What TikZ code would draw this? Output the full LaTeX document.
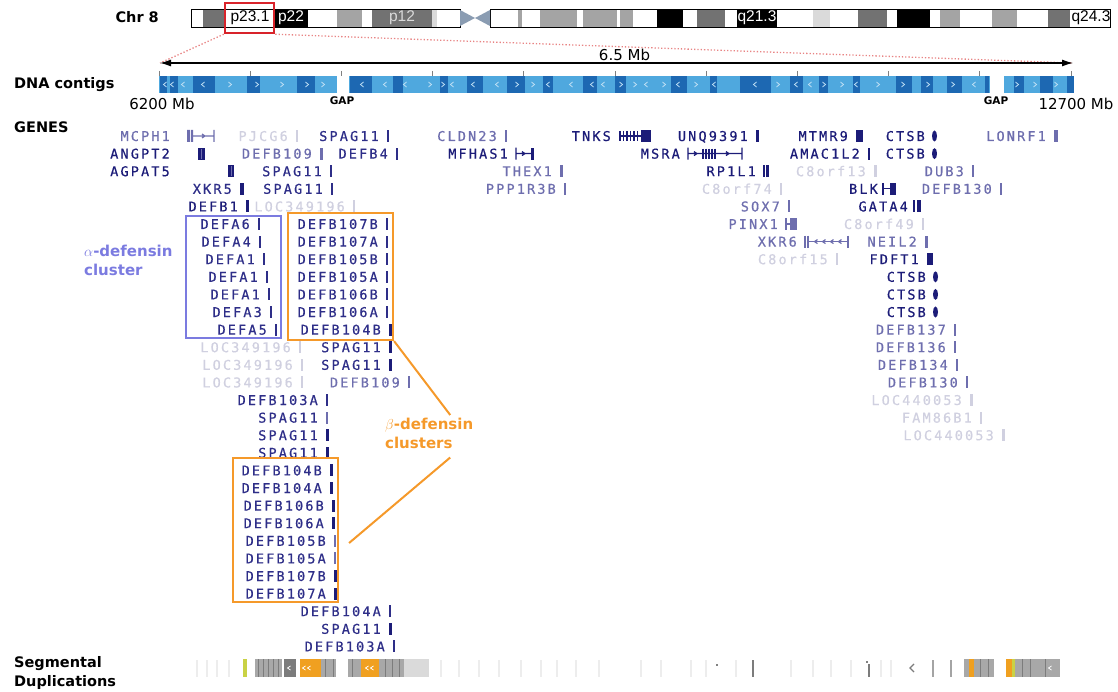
\documentclass[tikz,border=0pt]{standalone}
\usepackage{fontspec}
\usetikzlibrary{arrows.meta,positioning}

\newfontfamily\genefont[LetterSpace=16,FakeBold=0.6]{DejaVu Sans Mono}
\newfontfamily\labfont{DejaVu Sans}
\newfontfamily\bandfont{Liberation Sans}

\definecolor{gdark}{HTML}{1C1C78}
\definecolor{gmid}{HTML}{2E2E88}
\definecolor{glight}{HTML}{6E6EAE}
\definecolor{gfaint}{HTML}{D0D0E0}
\definecolor{alphac}{HTML}{7B7BE0}
\definecolor{betac}{HTML}{F5992A}
\definecolor{ctgl}{HTML}{4FA8DE}
\definecolor{ctgd}{HTML}{1D68B2}
\definecolor{chevc}{HTML}{BFE0F5}
\definecolor{selred}{HTML}{D8232A}
\definecolor{dotred}{HTML}{E88484}
\definecolor{cenc}{HTML}{8A9CB2}
\definecolor{bandl}{HTML}{A4A4A4}
\definecolor{bandd}{HTML}{727272}
\definecolor{bandx}{HTML}{DADADA}
\definecolor{dupor}{HTML}{F0A020}
\definecolor{dupyl}{HTML}{C9D245}
\definecolor{dupg}{HTML}{A8A8A8}
\definecolor{dupd}{HTML}{7C7C7C}

\begin{document}
\begin{tikzpicture}[x=1pt, y=-1pt,
    gene/.style={inner sep=0pt, anchor=east, text height=10pt, text depth=0pt,
                 font=\genefont\fontsize{13.5}{14}\selectfont},
    trk/.style={inner sep=0pt, anchor=west, align=left,
                font=\labfont\bfseries\fontsize{14.5}{19}\selectfont},
    mb/.style={inner sep=0pt, font=\labfont\fontsize{15}{15}\selectfont},
    gaplbl/.style={inner sep=0pt, font=\labfont\bfseries\fontsize{10.5}{11}\selectfont},
    band/.style={inner sep=0pt, font=\bandfont\fontsize{15.5}{16}\selectfont},
    clab/.style={inner sep=0pt, anchor=north west, align=left,
                 font=\labfont\bfseries\fontsize{15}{18.5}\selectfont},
    cbox/.style={draw, line width=2.2pt, inner sep=0pt},
    glyph/.style={line width=1.2pt},
    chev/.style={chevc, line width=0.8pt}
  ]
  \useasboundingbox (0,0) rectangle (1118,692);

  % track names
  \node[trk, anchor=east] (chr) at (159,17) {Chr 8};
  \node[trk] (ctg) at (14,85) {DNA contigs};
  \node[trk] (genes) at (14,127) {GENES};
  \node[trk] (segdup) at (14,673) {Segmental\\Duplications};

  % chromosome 8 ideogram
  \foreach \a/\b/\c in {191/203/white, 203/225/bandd, 225/274/white, 274/308/black,
      308/337/white, 337/362/bandl, 362/372/white, 372/432/bandd, 432/437/bandx,
      437/460/white, 490/518/white, 518/522/bandl, 522/540/white, 540/577/bandl,
      577/583/white, 583/617/bandl, 617/620/white, 620/633/bandl, 633/657/white,
      657/683/black, 683/697/white, 697/725/bandd, 725/737/white, 737/777/black,
      777/813/white, 813/830/bandx, 830/858/white, 858/887/bandd, 887/897/white,
      897/930/black, 930/940/white, 940/960/bandl, 960/992/white, 992/1017/bandl,
      1017/1048/white, 1048/1070/bandd, 1070/1110/white}
    \fill[\c] (\a,9) rectangle (\b,27);
  \draw[line width=0.8pt] (191,9) rectangle (460,27);
  \draw[line width=0.8pt] (490,9) rectangle (1110,27);
  \fill[cenc] (460,10) -- (475,18) -- (460,26) -- cycle;
  \fill[cenc] (490,10) -- (475,18) -- (490,26) -- cycle;
  \node[band] (p231) at (250,18) {p23.1};
  \node[band, text=white] (p22) at (291,18) {p22};
  \node[band, text=bandx] (p12) at (402,18) {p12};
  \node[band, text=white] (q213) at (757,18) {q21.3};
  \node[band] (q243) at (1091,18) {q24.3};
  \node[draw=selred, line width=2.5pt, minimum width=49, minimum height=30, inner sep=0pt] (sel) at (249.5,18) {};

  % zoom to the region
  \coordinate (ml) at (160,63);
  \coordinate (mr) at (1073,63);
  \draw[dotred, dotted, line width=1.3pt] (sel.south west) -- (ml);
  \draw[dotred, dotted, line width=1.3pt] (sel.south east) -- (mr);
  \draw[{Latex[length=11pt,width=7pt]}-{Latex[length=11pt,width=7pt]}, line width=1.2pt]
    (ml) -- node[mb, above=2pt, xshift=8pt] (span) {6.5 Mb} (mr);

  % DNA contigs
  \fill[ctgl] (159,76) rectangle (1074,93);
  \foreach \a/\b in {160/167, 170/178, 193/215, 247/260, 297/315, 350/372, 393/403,
      440/448, 467/483, 507/525, 543/553, 583/597, 615/626, 671/687, 710/717,
      740/771, 790/803, 819/828, 853/860, 896/912, 921/933, 947/962, 985/989,
      1014/1024, 1040/1053, 1067/1074}
    \fill[ctgd] (\a,76) rectangle (\b,93);
  \foreach \x/\d in {165/1, 172/1, 183/1, 203/1, 230/-1, 257/-1, 282/-1, 307/-1,
      323/-1, 362/1, 385/1, 405/1, 430/-1, 443/-1, 452/1, 473/1, 497/1, 517/-1,
      533/-1, 548/1, 571/1, 592/1, 603/1, 621/-1, 635/-1, 646/1, 664/-1, 678/1,
      696/-1, 714/1, 755/1, 778/-1, 796/1, 810/1, 824/-1, 842/-1, 856/1, 878/-1,
      903/-1, 928/-1, 953/-1, 974/1, 1017/-1, 1035/-1, 1056/-1}
    \draw[chev] ({\x+1.5*\d},82) -- ({\x-1.5*\d},84.5) -- ({\x+1.5*\d},87);
  \fill[white] (337,76) rectangle (349,93);
  \fill[white] (990,76) rectangle (1004,93);
  \foreach \i in {0,...,10}
    \draw[gray, line width=0.8pt] ({159+91.2*\i},71) -- ++(0,5);
  \node[mb] (lo) at (162,104) {6200 Mb};
  \node[mb] (hi) at (1076,104) {12700 Mb};
  \node[gaplbl] (gap1) at (342,101) {GAP};
  \node[gaplbl] (gap2) at (996,101) {GAP};

  % genes with a plain bar
  \foreach \r/\x/\t/\w/\c [count=\k] in {1/748/UNQ9391/2.5/gdark, 2/860/AMAC1L2/2/gdark,
      5/238/DEFB1/3/gdark, 1/848/MTMR9/7/gdark, 8/919/FDFT1/6/gdark}
  {
    \node[gene, text=gdark] (d\k) at (\x,{118.4+17.6*\r}) {\t};
    \fill[\c] ([xshift=8pt,yshift=6pt]d\k.east) rectangle ++(\w,12);
  }
  \foreach \r/\x/\t/\w/\c [count=\k] in {1/379/SPAG11/2/gmid, 2/388/DEFB4/2/gmid,
      3/322/SPAG11/1.5/gmid, 4/232/XKR5/3.5/gdark, 4/323/SPAG11/1.5/gmid,
      6/250/DEFA6/1.5/gmid, 7/251/DEFA4/1.5/gmid, 8/255/DEFA1/1.5/gmid,
      9/258/DEFA1/1.5/gmid, 10/260/DEFA1/1.5/gmid, 11/262/DEFA3/1.5/gmid,
      12/267/DEFA5/1.5/gmid, 6/378/DEFB107B/1.5/gmid, 7/378/DEFB107A/1.5/gmid,
      8/378/DEFB105B/1.5/gmid, 9/378/DEFB105A/1.5/gmid, 10/378/DEFB106B/1.5/gmid,
      11/378/DEFB106A/1.5/gmid, 12/381/DEFB104B/3/gdark, 13/381/SPAG11/3/gdark,
      14/381/SPAG11/3/gdark, 16/318/DEFB103A/1.5/gmid, 17/318/SPAG11/1.5/glight,
      18/318/SPAG11/3/gdark, 19/318/SPAG11/3/gdark, 20/322/DEFB104B/3/gdark,
      21/322/DEFB104A/3/gdark, 22/324/DEFB106B/3/gdark, 23/324/DEFB106A/3/gdark,
      24/326/DEFB105B/1.5/glight, 25/326/DEFB105A/1.5/glight, 26/326/DEFB107B/3/gdark,
      27/326/DEFB107A/3/gdark, 28/381/DEFB104A/1.5/gmid, 29/381/SPAG11/3/gdark,
      30/385/DEFB103A/1.5/gmid}
  {
    \node[gene, text=gmid] (m\k) at (\x,{118.4+17.6*\r}) {\t};
    \fill[\c] ([xshift=8pt,yshift=6pt]m\k.east) rectangle ++(\w,12);
  }
  \foreach \r/\x/\t/\w [count=\k] in {1/497/CLDN23/1.5, 1/1046/LONRF1/4,
      2/312/DEFB109/2.5, 3/552/THEX1/3, 3/964/DUB3/1.5, 4/556/PPP1R3B/2,
      4/992/DEFB130/2, 5/780/SOX7/1.5, 7/917/NEIL2/2.5, 12/946/DEFB137/2,
      13/946/DEFB136/2, 14/948/DEFB134/2, 15/958/DEFB130/2, 15/400/DEFB109/2}
  {
    \node[gene, text=glight] (l\k) at (\x,{118.4+17.6*\r}) {\t};
    \fill[glight] ([xshift=8pt,yshift=6pt]l\k.east) rectangle ++(\w,12);
  }
  \foreach \r/\x/\t/\w [count=\k] in {1/288/PJCG6/2, 3/866/C8orf13/3,
      4/772/C8orf74/2, 5/345/LOC349196/1.5, 6/914/C8orf49/1.5, 8/828/C8orf15/1.5,
      13/291/LOC349196/1.5, 14/293/LOC349196/1.5, 15/293/LOC349196/1.5,
      16/962/LOC440053/3, 17/972/FAM86B1/2, 18/994/LOC440053/3}
  {
    \node[gene, text=gfaint] (f\k) at (\x,{118.4+17.6*\r}) {\t};
    \fill[gfaint] ([xshift=8pt,yshift=6pt]f\k.east) rectangle ++(\w,12);
  }

  % genes with an exon/intron model
  \node[gene, text=glight] (mcph) at (170,136) {MCPH1};
  \fill[glight] (187,130) rectangle (190,142) (191,130) rectangle (193,142);
  \draw[glight, glyph] (193,136) -- (214,136) (214,130) -- (214,142)
    (202,134) -- (205,136) -- (202,138);
  \node[gene, text=gdark] (tnks) at (611,136) {TNKS};
  \draw[gdark, glyph] (620,136) -- (641,136);
  \foreach \x in {620,623.5,627,630.5,634,637.5}
    \draw[gdark, glyph] (\x,131) -- (\x,141);
  \fill[gdark] (641,130) rectangle (651,142);
  \node[gene, text=gdark] (angpt) at (170,153.6) {ANGPT2};
  \fill[gdark] (198,147.6) rectangle (205,159.6);
  \draw[glight, line width=0.8pt] (201.5,148.6) -- (201.5,158.6);
  \node[gene, text=gdark] (mfhas) at (508,153.6) {MFHAS1};
  \draw[gdark, glyph] (516,147.6) -- (516,159.6) (516,153.6) -- (532,153.6)
    (522,151.6) -- (525,153.6) -- (522,155.6);
  \fill[gdark] (531,147.6) rectangle (533.5,159.6);
  \node[gene, text=gdark] (msra) at (680,153.6) {MSRA};
  \draw[gdark, glyph] (688,147.6) -- (688,159.6) (688,153.6) -- (742,153.6)
    (742,147.6) -- (742,159.6) (694,151.6) -- (697,153.6) -- (694,155.6)
    (726,151.6) -- (729,153.6) -- (726,155.6);
  \foreach \x in {703,706,709,712,715}
    \draw[gdark, glyph] (\x,148.6) -- (\x,158.6);
  \node[gene, text=gdark] (agpat) at (170,171.2) {AGPAT5};
  \fill[gdark] (228,165.2) rectangle (234,177.2);
  \draw[glight, line width=0.8pt] (231,166.2) -- (231,176.2);
  \node[gene, text=gdark] (rp1l1) at (756,171.2) {RP1L1};
  \draw[gdark, glyph] (764,165.2) -- (764,177.2);
  \fill[gdark] (766,165.2) rectangle (769,177.2);
  \node[gene, text=gdark] (blk) at (878,188.8) {BLK};
  \draw[gdark, glyph] (883,182.8) -- (883,194.8) (883,188.8) -- (890,188.8);
  \fill[gdark] (890,182.8) rectangle (896,194.8);
  \node[gene, text=gdark] (gata) at (908,206.4) {GATA4};
  \draw[gdark, glyph] (914,200.4) -- (914,212.4);
  \fill[gdark] (917,200.4) rectangle (921,212.4);
  \node[gene, text=glight] (pinx) at (778,224) {PINX1};
  \draw[glight, glyph] (786,218) -- (786,230) (786,224) -- (790,224);
  \fill[glight] (790,218) rectangle (797,230);
  \node[gene, text=glight] (xkr6) at (797,241.6) {XKR6};
  \draw[glight, glyph] (805,235.6) -- (805,247.6) (808,235.6) -- (808,247.6)
    (808,241.6) -- (848,241.6) (848,235.6) -- (848,247.6);
  \foreach \x in {816,824,832,840}
    \draw[glight, glyph] (\x+1.5,239.6) -- (\x-1.5,241.6) -- (\x+1.5,243.6);
  \foreach \r/\x [count=\k] in {1/925, 2/925, 9/926, 10/926, 11/926}
  {
    \node[gene, text=gdark] (ctsb\k) at (\x,{118.4+17.6*\r}) {CTSB};
    \fill[gdark] ([xshift=9.5pt]ctsb\k.east) ellipse (2.5 and 5.5);
  }

  % defensin clusters
  \node[cbox, draw=alphac, minimum width=95, minimum height=122] (abox) at (233.5,277) {};
  \node[cbox, draw=betac, minimum width=105, minimum height=127] (bbox1) at (340.5,276.5) {};
  \node[cbox, draw=betac, minimum width=105, minimum height=144] (bbox2) at (285.5,530) {};
  \node[clab, text=alphac] (alab) at (84,245) {$\alpha$-defensin\\cluster};
  \node[clab, text=betac] (blab) at (385,418) {$\beta$-defensin\\clusters};
  \draw[betac, line width=2pt] (bbox1.south east) -- ([xshift=21pt,yshift=3pt]blab.north);
  \draw[betac, line width=2pt] ([xshift=21pt,yshift=-9pt]blab.south) -- ([xshift=10pt,yshift=-13pt]bbox2.east);

  % segmental duplications
  \foreach \x in {196,206,216,228,440,458,478,498,520,540,556,575,598,640,660,690,
      705,735,790,812,830,850,880,890}
    \fill[black!7] (\x,660) rectangle ++(1.5,17);
  \foreach \a/\b/\c in {243/247/dupyl, 255/282/dupg, 284/296/dupd, 300/321/dupor,
      321/336/dupg, 348/361/dupg, 361/379/dupor, 379/404/dupg, 404/429/bandx,
      964/994/dupg, 969/974/dupor, 1006/1012/dupor, 1012/1015/dupyl, 1015/1060/dupg}
    \fill[\c] (\a,659) rectangle (\b,677);
  \foreach \x in {258,263,268,273,278,325,333,352,385,392,399,980,988,1022,1030,1045}
    \fill[dupd] (\x,659) rectangle ++(1.2,18);
  \foreach \x in {289,304,309,367,372,1050}
    \draw[white, line width=0.8pt] (\x+1.5,666) -- (\x-1.5,668) -- (\x+1.5,670);
  \fill[black] (717,665) circle (0.9);
  \fill[black] (867,662) circle (0.9);
  \draw[dupd, line width=1.2pt] (753,660) -- (753,677) (869,664) -- (869,677);
  \draw[dupd, line width=1.2pt] (914,664) -- (910,668) -- (914,672);
  \draw[bandl, line width=1.2pt] (933,660) -- (933,677) (951,660) -- (951,677);
\end{tikzpicture}
\end{document}
